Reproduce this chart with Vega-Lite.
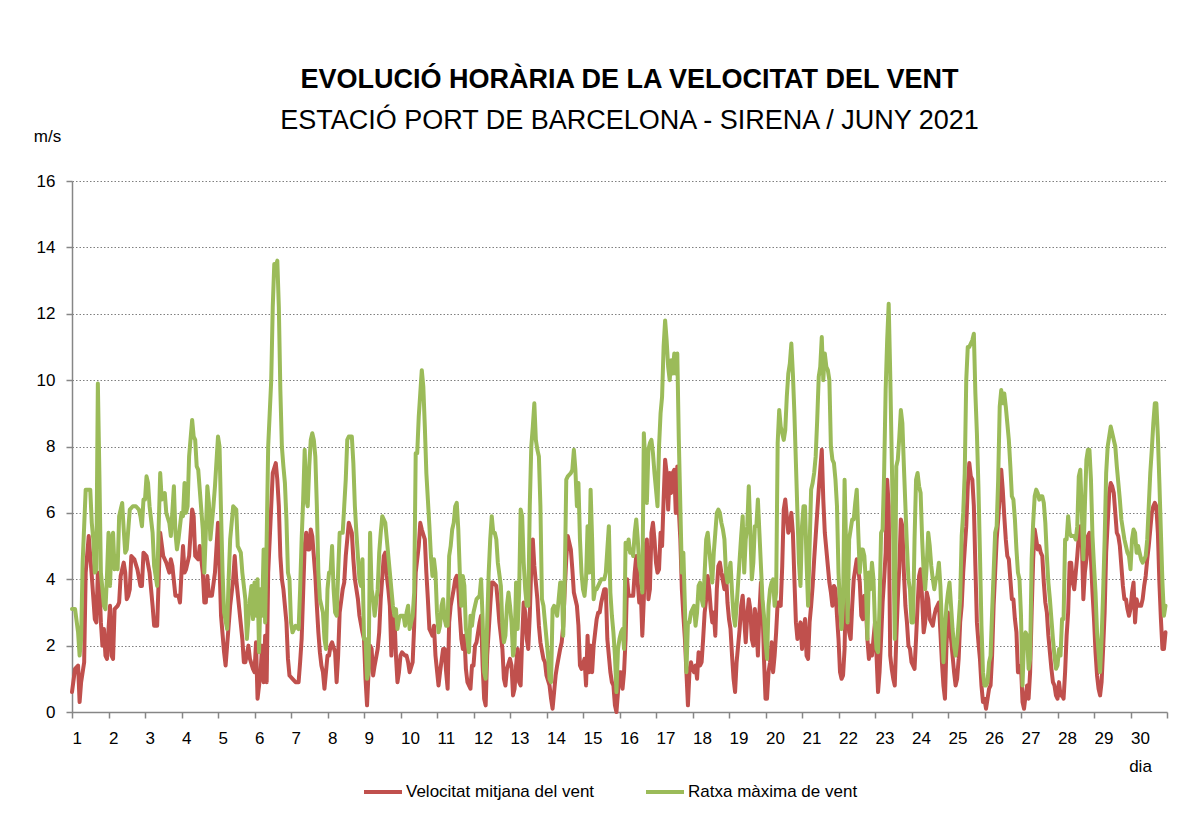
{
"$schema": "https://vega.github.io/schema/vega-lite/v6.json",
"width": 1095, "height": 531,
"autosize": "none",
"padding": {"left": 72, "top": 181, "right": 22, "bottom": 107},
"background": "white",
"config": {"view": {"stroke": null}, "font": "Liberation Sans"},
"title": {"text": "EVOLUCIÓ HORÀRIA DE LA VELOCITAT DEL VENT", "subtitle": "ESTACIÓ PORT DE BARCELONA - SIRENA / JUNY 2021", "anchor": "middle", "dx": 10, "font": "Liberation Sans", "fontSize": 27, "fontWeight": "bold", "color": "black", "subtitleFont": "Liberation Sans", "subtitleFontSize": 27, "subtitleFontWeight": "normal", "subtitleColor": "black", "subtitlePadding": 14, "offset": -8},
"datasets": {
"m": [{"h":0,"v":0.6},{"h":2,"v":1.3},{"h":4,"v":1.4},{"h":5,"v":0.3},{"h":6,"v":0.9},{"h":8,"v":1.5},{"h":9,"v":4.2},{"h":11,"v":5.3},{"h":13,"v":4.1},{"h":15,"v":2.8},{"h":16,"v":2.7},{"h":17,"v":4.2},{"h":18,"v":3.9},{"h":19,"v":2.7},{"h":20,"v":2.0},{"h":21,"v":2.5},{"h":22,"v":1.7},{"h":23,"v":1.6},{"h":24,"v":2.5},{"h":25,"v":3.2},{"h":26,"v":1.7},{"h":27,"v":1.6},{"h":28,"v":3.1},{"h":30,"v":3.2},{"h":31,"v":3.3},{"h":32,"v":4.1},{"h":34,"v":4.5},{"h":35,"v":4.2},{"h":36,"v":3.4},{"h":37,"v":3.5},{"h":38,"v":3.7},{"h":39,"v":4.7},{"h":41,"v":4.6},{"h":43,"v":4.3},{"h":45,"v":3.8},{"h":46,"v":3.8},{"h":47,"v":4.8},{"h":49,"v":4.7},{"h":51,"v":4.2},{"h":53,"v":3.2},{"h":54,"v":2.6},{"h":56,"v":2.6},{"h":58,"v":5.4},{"h":60,"v":4.7},{"h":62,"v":4.5},{"h":64,"v":4.2},{"h":65,"v":4.6},{"h":66,"v":4.4},{"h":68,"v":3.5},{"h":70,"v":3.5},{"h":71,"v":3.3},{"h":72,"v":4.2},{"h":73,"v":5.0},{"h":74,"v":4.2},{"h":75,"v":4.3},{"h":77,"v":4.7},{"h":79,"v":6.1},{"h":80,"v":5.9},{"h":81,"v":4.7},{"h":83,"v":4.6},{"h":84,"v":5.0},{"h":86,"v":4.2},{"h":87,"v":3.3},{"h":88,"v":3.3},{"h":89,"v":4.1},{"h":90,"v":3.5},{"h":92,"v":3.5},{"h":94,"v":4.2},{"h":96,"v":5.7},{"h":97,"v":4.4},{"h":98,"v":2.9},{"h":100,"v":1.8},{"h":101,"v":1.4},{"h":102,"v":2.0},{"h":104,"v":3.2},{"h":106,"v":4.0},{"h":107,"v":4.7},{"h":108,"v":4.0},{"h":110,"v":3.1},{"h":112,"v":2.2},{"h":113,"v":1.5},{"h":114,"v":1.5},{"h":116,"v":2.0},{"h":117,"v":1.6},{"h":119,"v":1.3},
{"h":120,"v":1.2},{"h":121,"v":2.1},{"h":122,"v":0.4},{"h":124,"v":1.2},{"h":125,"v":2.0},{"h":126,"v":0.9},{"h":127,"v":2.3},{"h":128,"v":0.9},{"h":129,"v":4.2},{"h":131,"v":6.2},{"h":132,"v":7.2},{"h":134,"v":7.5},{"h":135,"v":7.0},{"h":136,"v":6.2},{"h":137,"v":4.7},{"h":138,"v":4.0},{"h":139,"v":3.7},{"h":141,"v":2.7},{"h":142,"v":1.6},{"h":143,"v":1.1},{"h":145,"v":1.0},{"h":147,"v":0.9},{"h":149,"v":0.9},{"h":150,"v":1.5},{"h":151,"v":2.2},{"h":152,"v":3.6},{"h":153,"v":5.0},{"h":154,"v":5.4},{"h":155,"v":4.9},{"h":156,"v":4.9},{"h":157,"v":5.5},{"h":158,"v":5.3},{"h":160,"v":4.1},{"h":161,"v":3.2},{"h":162,"v":2.4},{"h":163,"v":1.8},{"h":164,"v":1.4},{"h":165,"v":1.2},{"h":166,"v":0.7},{"h":168,"v":1.7},{"h":169,"v":1.7},{"h":170,"v":2.0},{"h":171,"v":2.1},{"h":173,"v":1.8},{"h":174,"v":0.9},{"h":175,"v":1.7},{"h":176,"v":3.0},{"h":178,"v":3.7},{"h":179,"v":3.9},{"h":180,"v":4.7},{"h":181,"v":5.2},{"h":182,"v":5.7},{"h":184,"v":5.4},{"h":185,"v":4.6},{"h":186,"v":4.0},{"h":188,"v":3.4},{"h":189,"v":2.9},{"h":191,"v":2.4},{"h":192,"v":2.2},{"h":193,"v":1.0},{"h":194,"v":0.2},{"h":195,"v":1.2},{"h":196,"v":2.0},{"h":197,"v":1.9},{"h":198,"v":1.1},{"h":199,"v":1.4},{"h":201,"v":1.9},{"h":202,"v":2.4},{"h":203,"v":3.4},{"h":205,"v":4.7},{"h":206,"v":4.8},{"h":207,"v":4.1},{"h":208,"v":3.7},{"h":209,"v":3.2},{"h":210,"v":1.7},{"h":211,"v":2.9},{"h":212,"v":2.9},{"h":213,"v":1.7},{"h":214,"v":0.9},{"h":215,"v":1.2},{"h":216,"v":1.7},{"h":217,"v":1.8},{"h":219,"v":1.7},{"h":220,"v":1.7},{"h":221,"v":1.5},{"h":222,"v":1.2},{"h":224,"v":1.5},{"h":225,"v":2.6},{"h":226,"v":4.2},{"h":228,"v":5.0},{"h":229,"v":5.7},{"h":230,"v":5.5},{"h":232,"v":5.2},{"h":233,"v":4.2},{"h":234,"v":3.4},{"h":235,"v":2.5},{"h":237,"v":2.3},{"h":238,"v":2.6},{"h":239,"v":1.7},
{"h":241,"v":0.8},{"h":242,"v":1.2},{"h":244,"v":1.9},{"h":245,"v":1.9},{"h":246,"v":1.2},{"h":247,"v":0.7},{"h":248,"v":2.7},{"h":249,"v":3.2},{"h":251,"v":3.7},{"h":252,"v":4.0},{"h":253,"v":4.1},{"h":254,"v":3.7},{"h":255,"v":2.9},{"h":256,"v":2.2},{"h":257,"v":1.9},{"h":258,"v":2.3},{"h":259,"v":1.3},{"h":260,"v":0.9},{"h":262,"v":0.7},{"h":263,"v":1.4},{"h":264,"v":1.4},{"h":265,"v":2.0},{"h":266,"v":2.1},{"h":268,"v":2.7},{"h":269,"v":2.9},{"h":270,"v":1.4},{"h":271,"v":0.4},{"h":272,"v":0.2},{"h":273,"v":1.7},{"h":275,"v":3.2},{"h":276,"v":3.9},{"h":277,"v":3.9},{"h":279,"v":3.8},{"h":280,"v":3.3},{"h":281,"v":2.7},{"h":283,"v":1.9},{"h":284,"v":1.0},{"h":285,"v":0.8},{"h":286,"v":1.3},{"h":288,"v":1.6},{"h":289,"v":1.4},{"h":290,"v":0.5},{"h":291,"v":0.7},{"h":292,"v":1.4},{"h":293,"v":1.9},{"h":294,"v":0.9},{"h":295,"v":0.8},{"h":296,"v":2.2},{"h":297,"v":3.3},{"h":298,"v":3.0},{"h":299,"v":2.2},{"h":300,"v":1.9},{"h":301,"v":2.9},{"h":302,"v":4.4},{"h":303,"v":5.2},{"h":304,"v":4.4},{"h":305,"v":3.9},{"h":306,"v":3.4},{"h":307,"v":2.6},{"h":308,"v":2.1},{"h":310,"v":1.6},{"h":311,"v":1.5},{"h":312,"v":1.1},{"h":314,"v":0.8},{"h":315,"v":0.4},{"h":316,"v":0.1},{"h":317,"v":0.6},{"h":318,"v":1.1},{"h":319,"v":1.4},{"h":321,"v":1.9},{"h":322,"v":2.1},{"h":323,"v":2.6},{"h":324,"v":3.7},{"h":325,"v":4.6},{"h":326,"v":5.3},{"h":328,"v":4.9},{"h":329,"v":4.3},{"h":330,"v":3.6},{"h":332,"v":3.2},{"h":333,"v":2.6},{"h":334,"v":1.4},{"h":335,"v":1.3},{"h":337,"v":1.6},{"h":338,"v":0.8},{"h":339,"v":2.3},{"h":340,"v":1.2},{"h":341,"v":2.0},{"h":342,"v":1.2},{"h":343,"v":2.0},{"h":344,"v":2.4},{"h":345,"v":2.8},{"h":346,"v":3.0},{"h":347,"v":3.0},{"h":348,"v":3.3},{"h":350,"v":3.7},{"h":351,"v":3.7},{"h":352,"v":2.2},{"h":354,"v":1.2},{"h":355,"v":0.9},{"h":356,"v":0.8},{"h":357,"v":0.2},{"h":358,"v":0.0},{"h":359,"v":0.6},
{"h":360,"v":1.2},{"h":361,"v":1.2},{"h":362,"v":0.7},{"h":363,"v":1.2},{"h":364,"v":2.2},{"h":365,"v":4.0},{"h":366,"v":3.5},{"h":368,"v":3.5},{"h":369,"v":3.5},{"h":370,"v":4.2},{"h":371,"v":4.7},{"h":372,"v":3.9},{"h":373,"v":3.3},{"h":374,"v":3.6},{"h":375,"v":2.3},{"h":376,"v":3.4},{"h":377,"v":5.0},{"h":378,"v":5.2},{"h":379,"v":3.4},{"h":380,"v":3.7},{"h":381,"v":5.4},{"h":382,"v":5.7},{"h":383,"v":5.2},{"h":384,"v":4.5},{"h":385,"v":4.2},{"h":386,"v":4.3},{"h":387,"v":5.4},{"h":388,"v":5.0},{"h":389,"v":6.4},{"h":390,"v":7.6},{"h":391,"v":7.2},{"h":392,"v":6.1},{"h":393,"v":7.2},{"h":394,"v":6.6},{"h":395,"v":7.2},{"h":396,"v":7.3},{"h":397,"v":6.0},{"h":398,"v":7.4},{"h":399,"v":6.1},{"h":400,"v":5.2},{"h":401,"v":3.7},{"h":402,"v":2.9},{"h":403,"v":2.2},{"h":404,"v":1.2},{"h":405,"v":0.2},{"h":406,"v":1.2},{"h":407,"v":1.5},{"h":408,"v":1.3},{"h":409,"v":1.2},{"h":410,"v":1.4},{"h":411,"v":1.0},{"h":412,"v":1.8},{"h":413,"v":1.4},{"h":414,"v":1.5},{"h":415,"v":2.2},{"h":416,"v":3.0},{"h":417,"v":3.4},{"h":418,"v":4.1},{"h":419,"v":3.7},{"h":420,"v":3.1},{"h":421,"v":2.7},{"h":422,"v":3.0},{"h":423,"v":2.3},{"h":424,"v":3.7},{"h":425,"v":4.4},{"h":426,"v":4.5},{"h":427,"v":4.2},{"h":429,"v":3.7},{"h":430,"v":4.2},{"h":431,"v":3.3},{"h":432,"v":2.8},{"h":433,"v":2.5},{"h":434,"v":1.7},{"h":435,"v":1.0},{"h":436,"v":0.6},{"h":437,"v":1.5},{"h":438,"v":2.0},{"h":439,"v":2.5},{"h":440,"v":3.2},{"h":441,"v":3.5},{"h":442,"v":2.8},{"h":443,"v":2.1},{"h":444,"v":2.9},{"h":445,"v":3.4},{"h":446,"v":3.1},{"h":447,"v":2.2},{"h":448,"v":2.0},{"h":449,"v":3.1},{"h":450,"v":2.7},{"h":451,"v":1.7},{"h":452,"v":3.0},{"h":453,"v":3.9},{"h":454,"v":3.2},{"h":455,"v":1.6},{"h":456,"v":0.4},{"h":457,"v":0.4},{"h":458,"v":1.2},{"h":459,"v":1.5},{"h":460,"v":2.1},{"h":461,"v":1.2},{"h":462,"v":1.7},{"h":463,"v":2.4},{"h":464,"v":3.3},{"h":465,"v":3.3},{"h":466,"v":3.2},{"h":467,"v":4.4},{"h":468,"v":6.1},{"h":469,"v":6.4},{"h":470,"v":5.9},{"h":471,"v":5.4},{"h":472,"v":5.6},{"h":473,"v":6.0},{"h":474,"v":5.4},{"h":475,"v":4.0},{"h":476,"v":2.7},{"h":477,"v":2.2},{"h":478,"v":2.5},{"h":479,"v":2.7},{"h":480,"v":1.9},{"h":481,"v":2.4},
{"h":482,"v":2.8},{"h":483,"v":1.7},{"h":484,"v":1.6},{"h":485,"v":2.7},{"h":486,"v":3.2},{"h":487,"v":3.8},{"h":488,"v":4.6},{"h":489,"v":5.3},{"h":490,"v":6.0},{"h":491,"v":6.7},{"h":492,"v":7.3},{"h":493,"v":7.9},{"h":494,"v":6.4},{"h":495,"v":5.4},{"h":496,"v":4.9},{"h":497,"v":4.4},{"h":498,"v":3.9},{"h":499,"v":3.6},{"h":500,"v":3.2},{"h":501,"v":3.8},{"h":502,"v":3.7},{"h":503,"v":2.9},{"h":504,"v":2.2},{"h":505,"v":1.2},{"h":506,"v":1.0},{"h":507,"v":1.1},{"h":508,"v":1.9},{"h":509,"v":4.1},{"h":510,"v":3.2},{"h":511,"v":2.4},{"h":512,"v":2.2},{"h":513,"v":3.2},{"h":514,"v":4.0},{"h":515,"v":4.3},{"h":516,"v":4.6},{"h":517,"v":4.3},{"h":518,"v":3.9},{"h":519,"v":2.9},{"h":520,"v":2.8},{"h":521,"v":3.5},{"h":522,"v":3.2},{"h":523,"v":2.2},{"h":524,"v":1.6},{"h":525,"v":2.0},{"h":526,"v":1.7},{"h":527,"v":2.2},{"h":528,"v":2.7},{"h":529,"v":1.7},{"h":530,"v":0.6},{"h":531,"v":1.2},{"h":532,"v":2.2},{"h":533,"v":3.3},{"h":534,"v":4.0},{"h":535,"v":4.8},{"h":536,"v":7.0},{"h":537,"v":6.2},{"h":538,"v":1.7},{"h":539,"v":1.3},{"h":540,"v":1.0},{"h":541,"v":0.8},{"h":542,"v":2.2},{"h":543,"v":3.4},{"h":544,"v":4.4},{"h":545,"v":5.8},{"h":546,"v":5.6},{"h":547,"v":4.2},{"h":548,"v":3.2},{"h":549,"v":2.7},{"h":550,"v":2.0},{"h":551,"v":1.9},{"h":552,"v":1.5},{"h":554,"v":1.3},{"h":555,"v":2.2},{"h":556,"v":3.2},{"h":557,"v":4.1},{"h":558,"v":4.3},{"h":559,"v":3.4},{"h":560,"v":2.4},{"h":561,"v":2.7},{"h":562,"v":3.6},{"h":563,"v":3.4},{"h":564,"v":2.8},{"h":565,"v":2.7},{"h":566,"v":2.6},{"h":567,"v":2.9},{"h":568,"v":3.1},{"h":569,"v":3.2},{"h":570,"v":3.3},{"h":571,"v":2.4},{"h":572,"v":1.5},{"h":573,"v":0.8},{"h":574,"v":0.4},{"h":575,"v":2.0},{"h":576,"v":3.0},{"h":577,"v":2.7},{"h":578,"v":2.2},{"h":579,"v":1.7},{"h":580,"v":1.2},{"h":581,"v":0.8},{"h":582,"v":1.0},{"h":583,"v":1.6},{"h":584,"v":2.7},{"h":585,"v":3.2},{"h":586,"v":4.2},{"h":587,"v":4.9},{"h":588,"v":5.6},{"h":589,"v":6.8},{"h":590,"v":7.5},{"h":591,"v":7.1},{"h":592,"v":7.0},{"h":593,"v":6.2},{"h":594,"v":4.4},{"h":595,"v":2.7},{"h":596,"v":2.1},{"h":597,"v":1.6},{"h":598,"v":0.8},{"h":599,"v":0.3},
{"h":600,"v":0.4},{"h":601,"v":0.1},{"h":603,"v":0.7},{"h":604,"v":0.8},{"h":605,"v":1.7},{"h":606,"v":3.2},{"h":607,"v":4.2},{"h":608,"v":5.2},{"h":609,"v":5.8},{"h":610,"v":6.5},{"h":611,"v":7.3},{"h":612,"v":6.7},{"h":613,"v":5.9},{"h":614,"v":5.2},{"h":615,"v":4.7},{"h":616,"v":4.6},{"h":617,"v":4.0},{"h":618,"v":3.4},{"h":619,"v":3.4},{"h":620,"v":2.8},{"h":621,"v":2.4},{"h":622,"v":1.2},{"h":623,"v":1.2},{"h":624,"v":1.4},{"h":625,"v":0.3},{"h":626,"v":0.1},{"h":627,"v":0.5},{"h":628,"v":0.8},{"h":629,"v":0.4},{"h":630,"v":1.2},{"h":631,"v":3.0},{"h":632,"v":4.6},{"h":633,"v":5.5},{"h":634,"v":5.2},{"h":635,"v":4.9},{"h":636,"v":5.0},{"h":637,"v":4.8},{"h":638,"v":4.7},{"h":639,"v":3.9},{"h":640,"v":3.3},{"h":641,"v":3.0},{"h":642,"v":2.3},{"h":643,"v":1.8},{"h":644,"v":1.3},{"h":645,"v":0.9},{"h":646,"v":0.8},{"h":647,"v":0.5},{"h":648,"v":0.4},{"h":649,"v":0.9},{"h":650,"v":0.5},{"h":651,"v":0.5},{"h":652,"v":0.4},{"h":653,"v":1.2},{"h":654,"v":2.3},{"h":655,"v":3.0},{"h":656,"v":4.5},{"h":657,"v":4.5},{"h":658,"v":3.9},{"h":659,"v":3.7},{"h":660,"v":4.2},{"h":661,"v":4.7},{"h":662,"v":5.3},{"h":663,"v":5.6},{"h":664,"v":5.2},{"h":665,"v":3.4},{"h":666,"v":4.2},{"h":667,"v":4.6},{"h":668,"v":5.3},{"h":669,"v":5.4},{"h":670,"v":4.6},{"h":671,"v":3.6},{"h":672,"v":2.8},{"h":673,"v":1.8},{"h":674,"v":1.1},{"h":675,"v":0.7},{"h":676,"v":0.5},{"h":677,"v":0.9},{"h":678,"v":1.9},{"h":679,"v":3.0},{"h":680,"v":4.8},{"h":681,"v":5.7},{"h":682,"v":6.6},{"h":683,"v":6.9},{"h":684,"v":6.8},{"h":685,"v":6.6},{"h":686,"v":6.0},{"h":687,"v":5.4},{"h":688,"v":5.3},{"h":689,"v":5.0},{"h":690,"v":4.4},{"h":691,"v":3.8},{"h":692,"v":3.4},{"h":693,"v":3.4},{"h":694,"v":3.1},{"h":695,"v":2.9},{"h":696,"v":3.1},{"h":697,"v":3.6},{"h":698,"v":3.9},{"h":699,"v":2.7},{"h":700,"v":3.4},{"h":701,"v":3.2},{"h":702,"v":3.2},{"h":703,"v":3.2},{"h":704,"v":3.4},{"h":705,"v":3.8},{"h":706,"v":4.1},{"h":707,"v":4.6},{"h":708,"v":5.0},{"h":709,"v":5.5},{"h":710,"v":6.0},{"h":711,"v":6.2},{"h":712,"v":6.3},{"h":713,"v":6.2},{"h":714,"v":5.4},{"h":715,"v":3.9},{"h":716,"v":2.8},{"h":717,"v":1.9},{"h":718,"v":1.9},{"h":719,"v":2.4}],
"r": [{"h":0,"v":3.1},{"h":2,"v":3.1},{"h":4,"v":2.4},{"h":5,"v":1.7},{"h":6,"v":2.2},{"h":7,"v":4.5},{"h":9,"v":6.7},{"h":12,"v":6.7},{"h":13,"v":5.7},{"h":14,"v":5.2},{"h":15,"v":4.2},{"h":16,"v":4.3},{"h":17,"v":9.9},{"h":18,"v":7.2},{"h":19,"v":4.2},{"h":21,"v":3.2},{"h":22,"v":3.1},{"h":23,"v":4.1},{"h":24,"v":5.4},{"h":25,"v":3.8},{"h":26,"v":5.2},{"h":27,"v":5.4},{"h":28,"v":4.3},{"h":29,"v":4.7},{"h":30,"v":4.3},{"h":31,"v":5.9},{"h":33,"v":6.3},{"h":34,"v":5.5},{"h":35,"v":4.8},{"h":36,"v":4.9},{"h":38,"v":6.1},{"h":40,"v":6.2},{"h":42,"v":6.2},{"h":44,"v":6.1},{"h":45,"v":5.9},{"h":46,"v":5.6},{"h":47,"v":6.4},{"h":48,"v":6.4},{"h":49,"v":7.1},{"h":50,"v":6.9},{"h":51,"v":6.2},{"h":53,"v":5.4},{"h":54,"v":4.4},{"h":56,"v":3.8},{"h":57,"v":5.6},{"h":58,"v":7.2},{"h":59,"v":6.4},{"h":61,"v":6.6},{"h":62,"v":6.0},{"h":64,"v":5.7},{"h":65,"v":5.3},{"h":67,"v":6.8},{"h":68,"v":5.4},{"h":69,"v":4.9},{"h":70,"v":5.2},{"h":72,"v":6.0},{"h":73,"v":5.9},{"h":74,"v":6.9},{"h":75,"v":6.0},{"h":76,"v":6.2},{"h":77,"v":7.7},{"h":79,"v":8.8},{"h":80,"v":8.3},{"h":81,"v":8.2},{"h":82,"v":7.4},{"h":83,"v":7.3},{"h":84,"v":6.7},{"h":86,"v":5.5},{"h":87,"v":4.2},{"h":88,"v":5.4},{"h":89,"v":6.8},{"h":90,"v":6.3},{"h":91,"v":5.2},{"h":93,"v":6.2},{"h":94,"v":6.8},{"h":96,"v":8.3},{"h":97,"v":8.0},{"h":98,"v":6.0},{"h":99,"v":4.2},{"h":100,"v":3.0},{"h":102,"v":2.5},{"h":103,"v":4.0},{"h":104,"v":5.2},{"h":106,"v":6.2},{"h":108,"v":6.1},{"h":109,"v":5.0},{"h":111,"v":4.8},{"h":112,"v":4.2},{"h":114,"v":3.4},{"h":115,"v":2.2},{"h":117,"v":3.4},{"h":118,"v":3.8},{"h":119,"v":2.8},
{"h":120,"v":3.9},{"h":121,"v":2.9},{"h":122,"v":4.0},{"h":123,"v":1.8},{"h":124,"v":3.7},{"h":125,"v":2.9},{"h":126,"v":4.9},{"h":127,"v":2.7},{"h":128,"v":5.2},{"h":129,"v":8.0},{"h":130,"v":9.0},{"h":131,"v":10.0},{"h":132,"v":12.2},{"h":133,"v":13.5},{"h":134,"v":13.4},{"h":135,"v":13.6},{"h":136,"v":12.2},{"h":137,"v":9.7},{"h":138,"v":8.0},{"h":139,"v":7.4},{"h":140,"v":6.9},{"h":141,"v":5.8},{"h":142,"v":4.2},{"h":143,"v":4.0},{"h":144,"v":2.7},{"h":145,"v":2.4},{"h":147,"v":2.6},{"h":149,"v":2.5},{"h":150,"v":3.7},{"h":151,"v":5.2},{"h":152,"v":6.4},{"h":153,"v":7.9},{"h":154,"v":6.4},{"h":155,"v":6.2},{"h":156,"v":7.4},{"h":157,"v":8.2},{"h":158,"v":8.4},{"h":159,"v":8.2},{"h":160,"v":7.7},{"h":161,"v":6.2},{"h":162,"v":4.2},{"h":163,"v":3.4},{"h":165,"v":3.0},{"h":166,"v":2.2},{"h":167,"v":1.9},{"h":168,"v":3.7},{"h":169,"v":4.2},{"h":170,"v":4.2},{"h":171,"v":5.0},{"h":172,"v":3.7},{"h":173,"v":3.0},{"h":174,"v":2.9},{"h":175,"v":4.2},{"h":176,"v":5.4},{"h":178,"v":5.4},{"h":179,"v":6.2},{"h":180,"v":7.0},{"h":181,"v":8.2},{"h":182,"v":8.3},{"h":184,"v":8.3},{"h":185,"v":7.5},{"h":186,"v":6.2},{"h":187,"v":5.4},{"h":188,"v":4.7},{"h":189,"v":4.0},{"h":190,"v":3.8},{"h":191,"v":4.6},{"h":192,"v":2.2},{"h":193,"v":2.2},{"h":194,"v":1.0},{"h":195,"v":1.2},{"h":196,"v":5.4},{"h":197,"v":3.7},{"h":198,"v":3.4},{"h":199,"v":2.9},{"h":201,"v":3.7},{"h":202,"v":4.8},{"h":203,"v":5.4},{"h":204,"v":5.9},{"h":206,"v":5.7},{"h":207,"v":5.2},{"h":208,"v":4.7},{"h":209,"v":4.2},{"h":210,"v":3.7},{"h":211,"v":3.2},{"h":212,"v":2.9},{"h":213,"v":3.1},{"h":214,"v":2.5},{"h":215,"v":2.8},{"h":216,"v":2.9},{"h":218,"v":2.9},{"h":219,"v":2.6},{"h":220,"v":3.0},{"h":221,"v":3.2},{"h":222,"v":2.5},{"h":224,"v":2.9},{"h":225,"v":3.6},{"h":226,"v":7.8},{"h":227,"v":7.8},{"h":228,"v":8.9},{"h":229,"v":9.6},{"h":230,"v":10.3},{"h":231,"v":9.8},{"h":232,"v":8.6},{"h":233,"v":7.2},{"h":234,"v":6.4},{"h":235,"v":5.6},{"h":236,"v":4.7},{"h":237,"v":4.1},{"h":238,"v":4.6},{"h":239,"v":4.2},
{"h":240,"v":3.0},{"h":241,"v":2.4},{"h":242,"v":2.6},{"h":243,"v":3.2},{"h":244,"v":3.4},{"h":245,"v":2.8},{"h":246,"v":2.6},{"h":247,"v":2.6},{"h":248,"v":4.7},{"h":249,"v":5.0},{"h":250,"v":5.5},{"h":251,"v":5.7},{"h":252,"v":6.2},{"h":253,"v":6.3},{"h":254,"v":5.5},{"h":255,"v":4.2},{"h":256,"v":3.2},{"h":257,"v":4.1},{"h":258,"v":3.8},{"h":259,"v":2.5},{"h":260,"v":2.2},{"h":261,"v":1.8},{"h":262,"v":2.9},{"h":263,"v":2.6},{"h":264,"v":3.0},{"h":265,"v":3.2},{"h":266,"v":3.4},{"h":268,"v":3.5},{"h":269,"v":4.0},{"h":270,"v":2.8},{"h":271,"v":1.2},{"h":272,"v":1.0},{"h":273,"v":2.7},{"h":274,"v":4.2},{"h":275,"v":5.2},{"h":276,"v":5.9},{"h":277,"v":5.4},{"h":278,"v":5.4},{"h":279,"v":5.2},{"h":280,"v":4.5},{"h":282,"v":3.8},{"h":283,"v":2.6},{"h":284,"v":2.1},{"h":285,"v":2.3},{"h":286,"v":3.2},{"h":287,"v":3.6},{"h":288,"v":3.2},{"h":289,"v":2.7},{"h":290,"v":1.7},{"h":291,"v":2.0},{"h":292,"v":3.9},{"h":293,"v":2.5},{"h":294,"v":3.6},{"h":295,"v":6.1},{"h":296,"v":5.9},{"h":297,"v":4.5},{"h":298,"v":3.7},{"h":299,"v":3.2},{"h":300,"v":3.2},{"h":301,"v":6.2},{"h":302,"v":8.0},{"h":303,"v":8.6},{"h":304,"v":9.3},{"h":305,"v":8.2},{"h":306,"v":7.9},{"h":307,"v":7.7},{"h":308,"v":6.2},{"h":309,"v":3.4},{"h":310,"v":3.2},{"h":311,"v":2.7},{"h":312,"v":2.2},{"h":313,"v":1.7},{"h":314,"v":1.0},{"h":315,"v":0.9},{"h":316,"v":3.1},{"h":317,"v":3.2},{"h":318,"v":3.1},{"h":319,"v":2.9},{"h":320,"v":3.4},{"h":321,"v":3.9},{"h":322,"v":3.9},{"h":323,"v":2.3},{"h":324,"v":4.0},{"h":325,"v":7.0},{"h":326,"v":7.1},{"h":328,"v":7.2},{"h":329,"v":7.3},{"h":330,"v":7.9},{"h":331,"v":7.3},{"h":332,"v":6.2},{"h":333,"v":6.9},{"h":334,"v":5.2},{"h":335,"v":4.2},{"h":336,"v":3.7},{"h":337,"v":3.5},{"h":338,"v":4.0},{"h":339,"v":5.6},{"h":340,"v":4.2},{"h":341,"v":6.7},{"h":342,"v":5.2},{"h":343,"v":3.4},{"h":344,"v":3.7},{"h":345,"v":3.7},{"h":346,"v":3.8},{"h":347,"v":3.9},{"h":348,"v":4.0},{"h":350,"v":4.0},{"h":351,"v":4.2},{"h":352,"v":4.9},{"h":353,"v":5.6},{"h":354,"v":3.6},{"h":355,"v":2.9},{"h":356,"v":2.4},{"h":357,"v":1.7},{"h":358,"v":0.6},{"h":359,"v":1.9},
{"h":360,"v":2.2},{"h":361,"v":2.4},{"h":362,"v":2.5},{"h":363,"v":1.9},{"h":364,"v":5.1},{"h":365,"v":4.9},{"h":366,"v":5.2},{"h":367,"v":4.8},{"h":368,"v":4.9},{"h":369,"v":4.7},{"h":370,"v":5.4},{"h":371,"v":5.8},{"h":372,"v":5.2},{"h":373,"v":4.4},{"h":374,"v":4.2},{"h":375,"v":3.6},{"h":376,"v":8.4},{"h":377,"v":7.5},{"h":378,"v":6.3},{"h":379,"v":7.9},{"h":380,"v":8.1},{"h":381,"v":8.2},{"h":382,"v":7.8},{"h":383,"v":7.2},{"h":384,"v":6.7},{"h":385,"v":6.2},{"h":386,"v":8.0},{"h":387,"v":9.0},{"h":388,"v":9.5},{"h":389,"v":11.0},{"h":390,"v":11.8},{"h":391,"v":11.2},{"h":392,"v":10.4},{"h":393,"v":10.0},{"h":394,"v":10.6},{"h":395,"v":10.2},{"h":396,"v":10.8},{"h":397,"v":10.2},{"h":398,"v":10.8},{"h":399,"v":8.2},{"h":400,"v":6.2},{"h":401,"v":4.2},{"h":402,"v":4.8},{"h":403,"v":3.2},{"h":404,"v":1.2},{"h":405,"v":2.7},{"h":406,"v":2.7},{"h":407,"v":3.0},{"h":408,"v":3.1},{"h":409,"v":3.2},{"h":410,"v":2.6},{"h":411,"v":3.0},{"h":412,"v":3.8},{"h":413,"v":3.9},{"h":414,"v":3.4},{"h":415,"v":3.2},{"h":416,"v":4.2},{"h":417,"v":5.2},{"h":418,"v":5.4},{"h":419,"v":4.9},{"h":420,"v":4.4},{"h":421,"v":3.9},{"h":422,"v":4.8},{"h":423,"v":5.4},{"h":424,"v":6.0},{"h":425,"v":6.1},{"h":426,"v":6.0},{"h":427,"v":5.7},{"h":428,"v":5.5},{"h":429,"v":5.2},{"h":430,"v":4.2},{"h":431,"v":3.9},{"h":432,"v":4.2},{"h":433,"v":4.5},{"h":434,"v":3.6},{"h":435,"v":2.9},{"h":436,"v":2.6},{"h":437,"v":3.2},{"h":438,"v":3.9},{"h":439,"v":4.6},{"h":440,"v":5.3},{"h":441,"v":5.9},{"h":442,"v":4.2},{"h":443,"v":5.2},{"h":444,"v":5.6},{"h":445,"v":6.8},{"h":446,"v":5.5},{"h":447,"v":4.0},{"h":448,"v":4.5},{"h":449,"v":5.6},{"h":450,"v":5.6},{"h":451,"v":6.4},{"h":452,"v":5.4},{"h":453,"v":4.4},{"h":454,"v":3.4},{"h":455,"v":2.9},{"h":456,"v":2.1},{"h":457,"v":1.6},{"h":458,"v":3.2},{"h":459,"v":3.7},{"h":460,"v":3.9},{"h":461,"v":4.0},{"h":462,"v":3.2},{"h":463,"v":3.6},{"h":464,"v":8.1},{"h":465,"v":9.1},{"h":466,"v":8.6},{"h":467,"v":8.4},{"h":468,"v":8.2},{"h":469,"v":8.5},{"h":470,"v":9.5},{"h":471,"v":10.2},{"h":472,"v":10.5},{"h":473,"v":11.1},{"h":474,"v":10.2},{"h":475,"v":9.0},{"h":476,"v":7.5},{"h":477,"v":6.0},{"h":478,"v":4.5},{"h":479,"v":3.8},{"h":480,"v":5.6},{"h":481,"v":6.2},
{"h":482,"v":6.2},{"h":483,"v":4.5},{"h":484,"v":3.2},{"h":485,"v":5.0},{"h":486,"v":6.7},{"h":487,"v":6.9},{"h":488,"v":7.2},{"h":489,"v":7.7},{"h":490,"v":8.8},{"h":491,"v":10.1},{"h":492,"v":10.4},{"h":493,"v":11.3},{"h":494,"v":10.0},{"h":495,"v":10.8},{"h":496,"v":10.4},{"h":497,"v":10.3},{"h":498,"v":10.0},{"h":499,"v":8.0},{"h":500,"v":7.6},{"h":501,"v":7.5},{"h":502,"v":7.0},{"h":503,"v":6.2},{"h":504,"v":4.2},{"h":505,"v":3.2},{"h":506,"v":2.5},{"h":507,"v":3.3},{"h":508,"v":7.0},{"h":509,"v":5.0},{"h":510,"v":2.7},{"h":511,"v":5.2},{"h":512,"v":5.5},{"h":513,"v":5.8},{"h":514,"v":5.8},{"h":515,"v":6.3},{"h":516,"v":6.7},{"h":517,"v":5.4},{"h":518,"v":4.2},{"h":519,"v":4.9},{"h":520,"v":4.9},{"h":521,"v":4.7},{"h":522,"v":3.9},{"h":523,"v":2.2},{"h":524,"v":4.2},{"h":525,"v":3.7},{"h":526,"v":4.5},{"h":527,"v":4.0},{"h":528,"v":2.6},{"h":529,"v":1.9},{"h":530,"v":1.8},{"h":531,"v":3.2},{"h":532,"v":5.4},{"h":533,"v":5.5},{"h":534,"v":7.2},{"h":535,"v":9.7},{"h":536,"v":11.2},{"h":537,"v":12.3},{"h":538,"v":10.2},{"h":539,"v":7.7},{"h":540,"v":5.2},{"h":541,"v":2.2},{"h":542,"v":7.4},{"h":543,"v":7.6},{"h":544,"v":8.3},{"h":545,"v":9.1},{"h":546,"v":8.7},{"h":547,"v":7.4},{"h":548,"v":6.2},{"h":549,"v":5.0},{"h":550,"v":4.0},{"h":551,"v":3.7},{"h":552,"v":2.7},{"h":553,"v":2.7},{"h":554,"v":5.2},{"h":555,"v":7.0},{"h":556,"v":7.2},{"h":557,"v":6.8},{"h":558,"v":6.6},{"h":559,"v":5.2},{"h":560,"v":4.2},{"h":561,"v":3.7},{"h":562,"v":4.4},{"h":563,"v":5.4},{"h":564,"v":5.0},{"h":565,"v":4.4},{"h":566,"v":4.0},{"h":567,"v":3.7},{"h":568,"v":4.0},{"h":569,"v":4.1},{"h":570,"v":4.5},{"h":571,"v":3.8},{"h":572,"v":2.6},{"h":573,"v":1.5},{"h":574,"v":2.5},{"h":575,"v":3.2},{"h":576,"v":3.6},{"h":577,"v":3.9},{"h":578,"v":3.2},{"h":579,"v":2.5},{"h":580,"v":2.0},{"h":581,"v":1.7},{"h":582,"v":2.1},{"h":583,"v":2.7},{"h":584,"v":3.4},{"h":585,"v":5.3},{"h":586,"v":6.0},{"h":587,"v":7.2},{"h":588,"v":10.0},{"h":589,"v":11.0},{"h":590,"v":11.0},{"h":591,"v":11.1},{"h":592,"v":11.2},{"h":593,"v":11.4},{"h":594,"v":9.6},{"h":595,"v":8.4},{"h":596,"v":6.8},{"h":597,"v":4.8},{"h":598,"v":2.6},{"h":599,"v":1.2},
{"h":600,"v":0.8},{"h":601,"v":0.8},{"h":602,"v":0.9},{"h":603,"v":1.5},{"h":604,"v":1.7},{"h":605,"v":3.0},{"h":606,"v":4.2},{"h":607,"v":5.4},{"h":608,"v":5.6},{"h":609,"v":7.0},{"h":610,"v":9.2},{"h":611,"v":9.7},{"h":612,"v":9.3},{"h":613,"v":9.6},{"h":614,"v":9.2},{"h":615,"v":8.7},{"h":616,"v":8.2},{"h":617,"v":7.4},{"h":618,"v":6.5},{"h":619,"v":6.4},{"h":620,"v":5.8},{"h":621,"v":4.9},{"h":622,"v":4.2},{"h":623,"v":4.0},{"h":624,"v":2.9},{"h":625,"v":0.8},{"h":626,"v":2.2},{"h":627,"v":2.4},{"h":628,"v":2.3},{"h":629,"v":1.3},{"h":630,"v":1.6},{"h":631,"v":4.6},{"h":632,"v":5.7},{"h":633,"v":6.5},{"h":634,"v":6.7},{"h":635,"v":6.6},{"h":636,"v":6.4},{"h":637,"v":6.5},{"h":638,"v":6.5},{"h":639,"v":6.3},{"h":640,"v":5.7},{"h":641,"v":4.7},{"h":642,"v":3.9},{"h":643,"v":3.4},{"h":644,"v":2.8},{"h":645,"v":2.2},{"h":646,"v":1.7},{"h":647,"v":1.3},{"h":648,"v":1.4},{"h":649,"v":1.9},{"h":650,"v":1.7},{"h":651,"v":2.8},{"h":652,"v":2.8},{"h":653,"v":5.2},{"h":654,"v":5.2},{"h":655,"v":5.9},{"h":656,"v":5.4},{"h":657,"v":5.3},{"h":658,"v":5.3},{"h":659,"v":5.3},{"h":660,"v":5.2},{"h":661,"v":5.6},{"h":662,"v":7.1},{"h":663,"v":7.3},{"h":664,"v":6.0},{"h":665,"v":4.6},{"h":666,"v":6.2},{"h":667,"v":7.6},{"h":668,"v":7.9},{"h":669,"v":7.9},{"h":670,"v":7.0},{"h":671,"v":5.3},{"h":672,"v":4.4},{"h":673,"v":3.6},{"h":674,"v":2.4},{"h":675,"v":1.8},{"h":676,"v":1.2},{"h":677,"v":2.2},{"h":678,"v":3.6},{"h":679,"v":5.2},{"h":680,"v":7.2},{"h":681,"v":8.0},{"h":682,"v":8.3},{"h":683,"v":8.6},{"h":684,"v":8.4},{"h":685,"v":8.2},{"h":686,"v":8.0},{"h":687,"v":7.4},{"h":688,"v":6.9},{"h":689,"v":6.4},{"h":690,"v":5.8},{"h":691,"v":5.5},{"h":692,"v":5.2},{"h":693,"v":5.0},{"h":694,"v":4.8},{"h":695,"v":4.7},{"h":696,"v":4.3},{"h":697,"v":5.2},{"h":698,"v":5.5},{"h":699,"v":5.4},{"h":700,"v":4.8},{"h":701,"v":5.0},{"h":702,"v":4.8},{"h":703,"v":4.6},{"h":704,"v":4.5},{"h":705,"v":4.6},{"h":706,"v":4.7},{"h":707,"v":5.2},{"h":708,"v":6.2},{"h":709,"v":7.2},{"h":710,"v":7.9},{"h":711,"v":8.7},{"h":712,"v":9.3},{"h":713,"v":9.3},{"h":714,"v":8.3},{"h":715,"v":6.9},{"h":716,"v":5.4},{"h":717,"v":3.9},{"h":718,"v":2.9},{"h":719,"v":3.2}]
},
"encoding": {
"x": {"field": "h", "type": "quantitative", "scale": {"domain": [0, 720], "nice": false, "zero": false},
 "axis": {"values": [0,24,48,72,96,120,144,168,192,216,240,264,288,312,336,360,384,408,432,456,480,504,528,552,576,600,624,648,672,696,720],
  "labelExpr": "datum.value < 720 ? '' + (datum.value / 24 + 1) : ''", "labelAlign": "left", "labelFont": "Liberation Sans", "labelFontSize": 17, "labelColor": "black", "labelPadding": 12, "labelFlush": false, "labelOverlap": false,
  "grid": false, "domainColor": "#868686", "domainWidth": 1.5, "tickColor": "#868686", "tickSize": 6, "tickWidth": 1.5,
  "title": "dia", "titleFont": "Liberation Sans", "titleFontSize": 17, "titleFontWeight": "normal", "titleColor": "black", "titleX": 1068, "titleY": 54, "titleAlign": "center", "titleBaseline": "middle"}},
"y": {"field": "v", "type": "quantitative", "scale": {"domain": [0, 16], "nice": false},
 "axis": {"values": [0,2,4,6,8,10,12,14,16], "labelFont": "Liberation Sans", "labelFontSize": 17, "labelColor": "black", "labelPadding": 11,
  "grid": true, "gridColor": "#7f7f7f", "gridDash": [1.5, 2], "gridWidth": 1,
  "domainColor": "#868686", "domainWidth": 1.5, "tickColor": "#868686", "tickSize": 6, "tickWidth": 1.5,
  "title": "m/s", "titleFont": "Liberation Sans", "titleFontSize": 17, "titleFontWeight": "normal", "titleColor": "black", "titleAngle": 0, "titleX": -25, "titleY": -45, "titleAlign": "center", "titleBaseline": "middle"}}
},
"layer": [
 {"data": {"name": "m"}, "mark": {"type": "line", "strokeWidth": 4, "strokeJoin": "round", "strokeCap": "round"},
  "encoding": {"color": {"datum": "Velocitat mitjana del vent", "type": "nominal",
   "scale": {"domain": ["Velocitat mitjana del vent", "Ratxa màxima de vent"], "range": ["#C0504D", "#9BBB59"]},
   "legend": {"title": null, "orient": "none", "legendX": 290, "legendY": 590, "direction": "horizontal", "symbolType": "stroke", "symbolSize": 1444, "symbolStrokeWidth": 4, "labelFont": "Liberation Sans", "labelFontSize": 17, "labelColor": "black", "labelLimit": 0, "labelOffset": 2, "columnPadding": 43, "padding": 0}}}},
 {"data": {"name": "r"}, "mark": {"type": "line", "strokeWidth": 4, "strokeJoin": "round", "strokeCap": "round"},
  "encoding": {"color": {"datum": "Ratxa màxima de vent", "type": "nominal"}}}
]
}
